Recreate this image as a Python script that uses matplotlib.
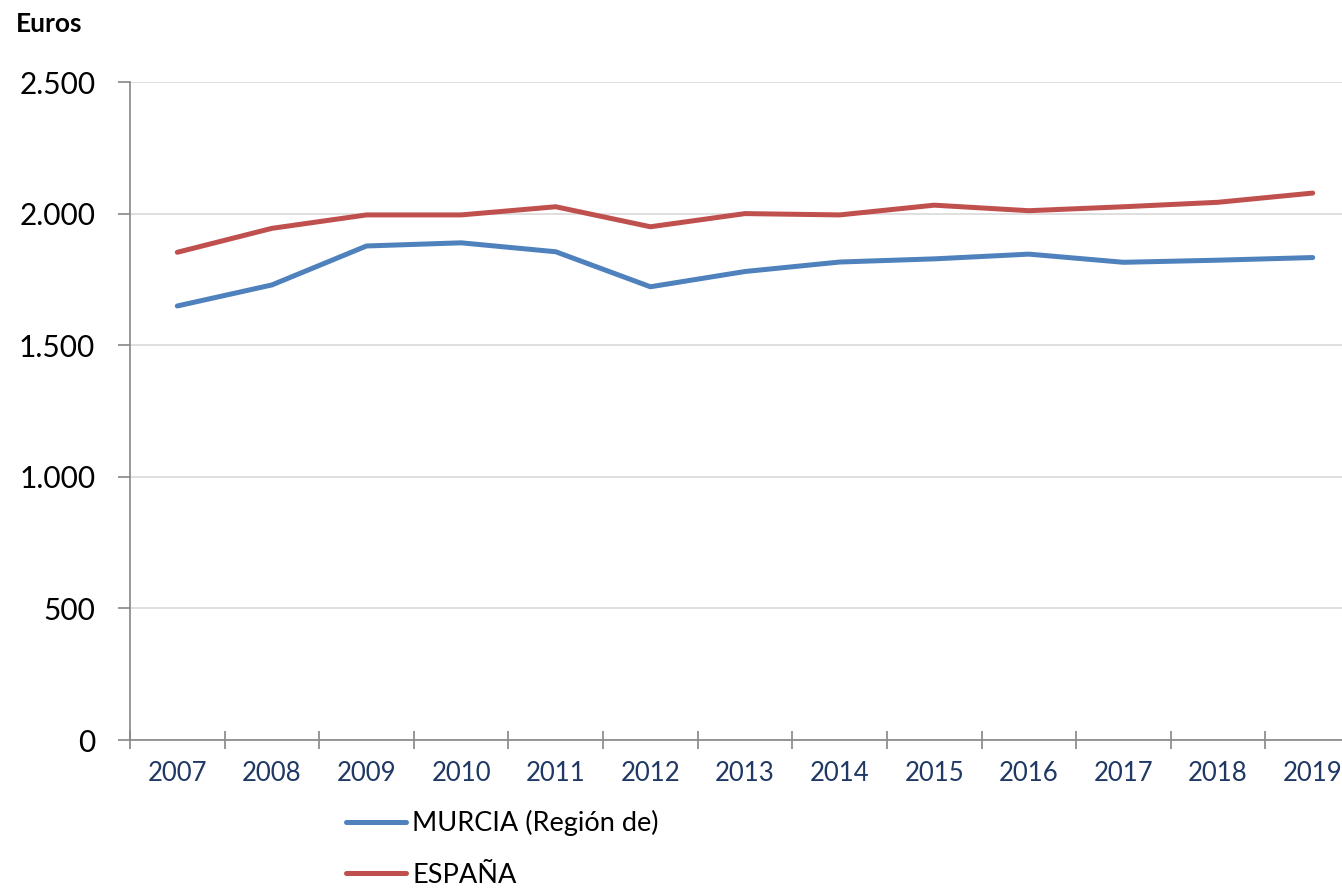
import matplotlib.pyplot as plt
import numpy as np

years = ["2007", "2008", "2009", "2010", "2011", "2012", "2013",
         "2014", "2015", "2016", "2017", "2018", "2019"]
murcia = [1649, 1729, 1877, 1889, 1855, 1722, 1780, 1816, 1828, 1846, 1815, 1823, 1833]
espana = [1853, 1944, 1995, 1995, 2026, 1950, 2000, 1995, 2032, 2011, 2026, 2043, 2078]

plt.rcParams['font.family'] = ['Lato', 'DejaVu Sans']

fig = plt.figure(figsize=(13.42, 8.9), dpi=100)
ax = fig.add_axes([130 / 1342, 1 - 740 / 890, 1230 / 1342, 658 / 890])

x = np.arange(len(years))
ax.plot(x, murcia, color='#4F81BD', lw=3.6, solid_capstyle='round', label='MURCIA (Región de)')
ax.plot(x, espana, color='#C0504D', lw=3.6, solid_capstyle='round', label='ESPAÑA')

ax.set_xlim(-0.5, len(years) - 0.5)
ax.set_ylim(0, 2500)
ax.set_yticks(range(0, 2501, 500))
ax.set_yticklabels([f"{v:,}".replace(",", ".") for v in range(0, 2501, 500)])
ax.grid(axis='y', color='#D9D9D9', lw=1.2)
ax.set_axisbelow(True)

ax.set_xticks(x)
ax.set_xticklabels(years)
ax.set_xticks(np.arange(-0.5, len(years)), minor=True)
ax.tick_params(axis='x', which='major', length=0, pad=15, labelsize=18.5, labelcolor='#1F3864')
ax.tick_params(axis='x', which='minor', length=13, direction='inout', color='#868686', width=1.2)
ax.tick_params(axis='y', length=9, color='#868686', width=1.2, pad=16, labelsize=21.5)

for s in ['top', 'right']:
    ax.spines[s].set_visible(False)
for s in ['left', 'bottom']:
    ax.spines[s].set_color('#868686')
    ax.spines[s].set_linewidth(1.2)

fig.text(16 / 1342, 1 - 24 / 890, 'Euros', fontsize=19, fontweight='bold', va='center')

fig.legend(loc='center left', bbox_to_anchor=(346 / 1342, 1 - 849 / 890), frameon=False,
           fontsize=19.5, handlelength=2.2, handletextpad=0.25, labelspacing=0.98, borderpad=0,
           borderaxespad=0)

fig.savefig('out.png', dpi=100)
